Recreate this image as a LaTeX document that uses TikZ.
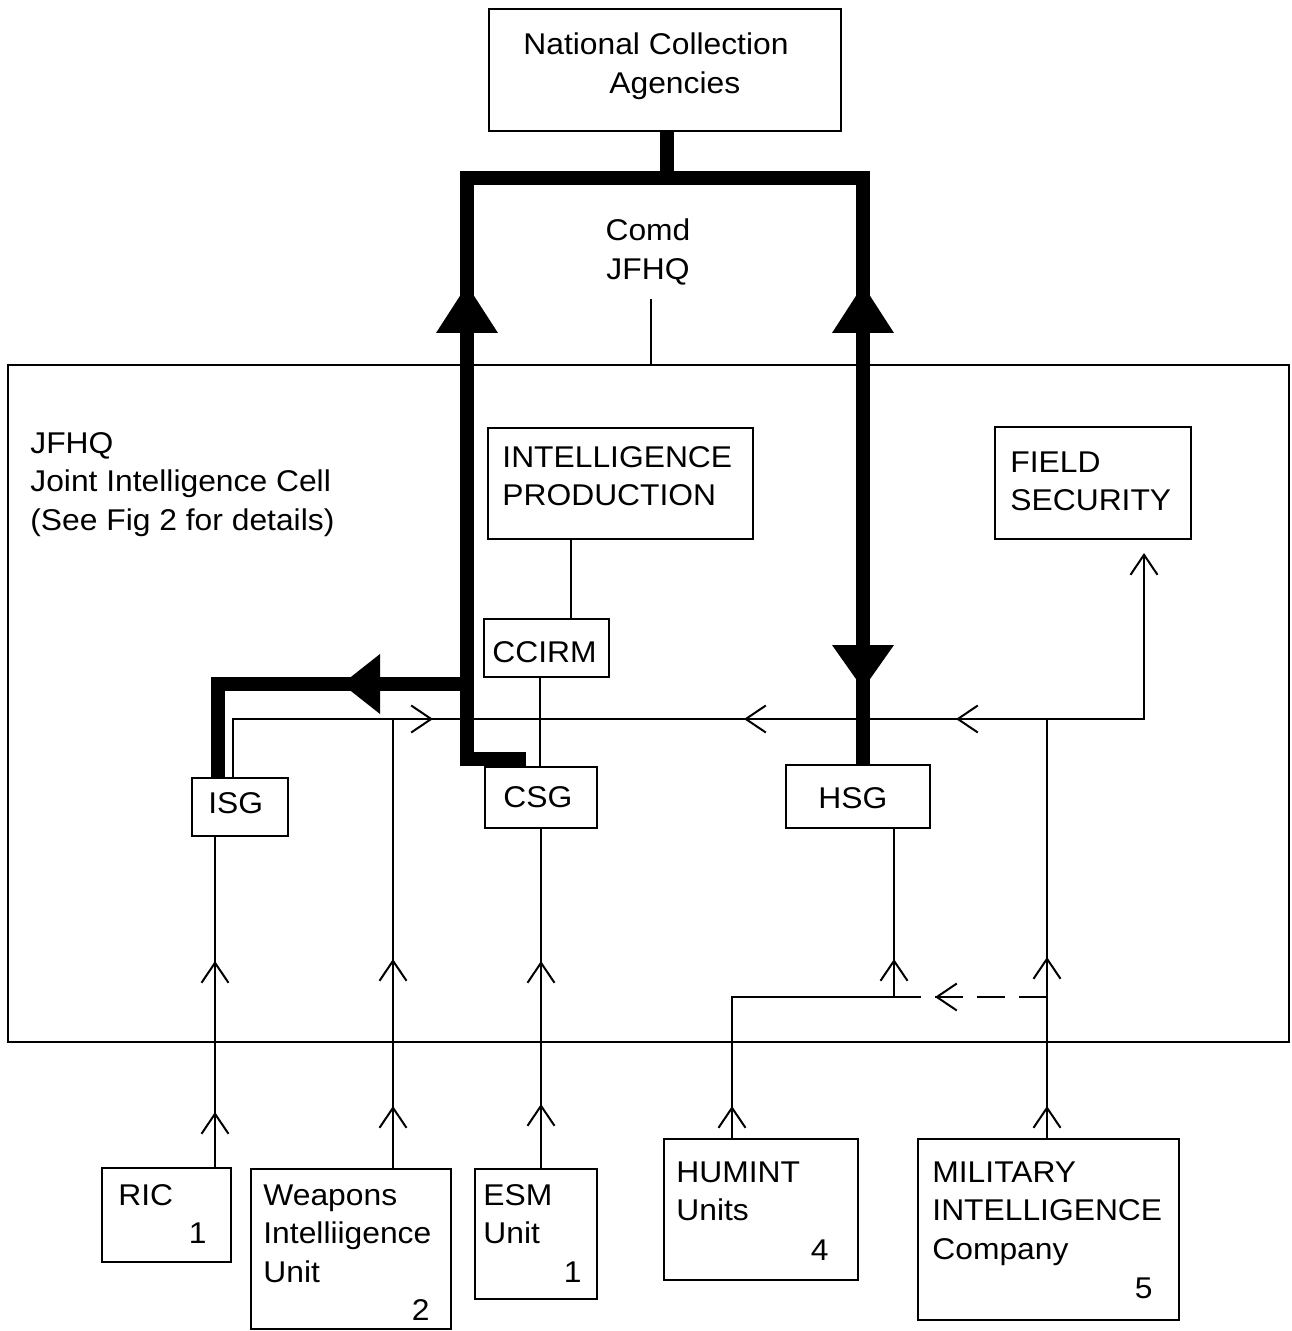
\documentclass[tikz,border=0pt]{standalone}
\usepackage{fontspec}
\setmainfont{Liberation Sans}[FakeStretch=1.06]
\usetikzlibrary{arrows.meta,decorations.markings,fit,calc}

% multi-line labels whose first baseline sits on the node's base anchor
\newcommand{\txtlines}[1]{\begin{tabular}[t]{@{}l@{}}#1\end{tabular}}
\newcommand{\txtcenter}[1]{\begin{tabular}[t]{@{}c@{}}#1\end{tabular}}

\tikzset{
  barb/.tip={Straight Barb[length=10pt,width=13.5pt]},
  box/.style={draw, line width=1pt, inner sep=0pt},
  txt/.style={inner sep=0pt, font=\fontsize{15}{19.25}\selectfont, anchor=base west},
  num/.style={txt, anchor=base east},
  feed/.style={line width=1pt},
  heavy/.style={line width=7pt, line cap=butt, line join=miter},
  head/.style={fill=black},
  onebarb/.style={postaction={decorate, decoration={markings,
      mark=at position #1 with {\arrow{barb}}}}},
  twobarbs/.style 2 args={postaction={decorate, decoration={markings,
      mark=at position #1 with {\arrow{barb}},
      mark=at position #2 with {\arrow{barb}}}}},
  netbarbs/.style={postaction={decorate, decoration={markings,
      mark=at position 129pt with {\arrow{barb}},
      mark=at position 284.5pt with {\arrowreversed{barb}},
      mark=at position 390.5pt with {\arrowreversed{barb}}}}},
}

\begin{document}
\begin{tikzpicture}[x=0.5pt,y=-0.5pt]
\useasboundingbox (0,0) rectangle (1291,1331);

% ---------- boxes ----------
\node[box, fit={(489,9)(841,131)}]      (nca)   {};
\node[box, fit={(8,365)(1289,1042)}]    (jic)   {};
\node[box, fit={(488,428)(753,539)}]    (ip)    {};
\node[box, fit={(995,427)(1191,539)}]   (fs)    {};
\node[box, fit={(484,619)(609,677)}]    (ccirm) {};
\node[box, fit={(485,767)(597,828)}]    (csg)   {};
\node[box, fit={(192,778)(288,836)}]    (isg)   {};
\node[box, fit={(786,765)(930,828)}]    (hsg)   {};
\node[box, fit={(102,1168)(231,1262)}]  (ric)   {};
\node[box, fit={(251,1169)(451,1329)}]  (wiu)   {};
\node[box, fit={(475,1169)(597,1299)}]  (esm)   {};
\node[box, fit={(664,1139)(858,1280)}]  (hum)   {};
\node[box, fit={(918,1139)(1179,1320)}] (mi)    {};

% ---------- texts ----------
\node[txt] (t-nca) at (523,55) {\txtlines{National Collection\\\hspace*{43pt}Agencies}};
\node[txt, anchor=base] (comd) at (648,241) {\txtcenter{Comd\\JFHQ}};
\node[txt] (t-jic) at (30,453) {\txtlines{JFHQ\\Joint Intelligence Cell\\(See Fig 2 for details)}};
\node[txt] (t-ip) at (502,467) {\txtlines{INTELLIGENCE\\PRODUCTION}};
\node[txt] (t-fs) at (1010,472) {\txtlines{FIELD\\SECURITY}};
\node[txt] (t-ccirm) at (492,662) {CCIRM};
\node[txt] (t-csg) at (503,807) {CSG};
\node[txt] (t-isg) at (208,813) {ISG};
\node[txt] (t-hsg) at (818,808) {HSG};
\node[txt] (t-ric) at (118,1205) {RIC};
\node[num] (n-ric) at (207,1243) {1};
\node[txt] (t-wiu) at (263,1205) {\txtlines{Weapons\\Intelliigence\\Unit}};
\node[num] (n-wiu) at (430,1320) {2};
\node[txt] (t-esm) at (483,1205) {\txtlines{ESM\\Unit}};
\node[num] (n-esm) at (582,1282) {1};
\node[txt] (t-hum) at (676,1182) {\txtlines{HUMINT\\Units}};
\node[num] (n-hum) at (829,1260) {4};
\node[txt] (t-mi) at (932,1182) {\txtlines{MILITARY\\INTELLIGENCE\\Company}};
\node[num] (n-mi) at (1153,1298) {5};

% ---------- lanes and buses ----------
\coordinate (laneIP)   at (571,0);
\coordinate (laneCC)   at (540,0);
\coordinate (laneComd) at (651,0);
\coordinate (laneISG)  at (215,0);
\coordinate (laneNet)  at (233,0);
\coordinate (laneWIU)  at (393,0);
\coordinate (laneCSG)  at (541,0);
\coordinate (laneHUM)  at (732,0);
\coordinate (laneHSG)  at (894,0);
\coordinate (laneMI)   at (1047,0);
\coordinate (laneFS)   at (1144,0);
\coordinate (net)      at (0,719);
\coordinate (humnet)   at (0,997);
\coordinate (colL)     at (467,0);
\coordinate (colR)     at (863,0);
\coordinate (colNCA)   at (667,0);
\coordinate (colISG)   at (218,0);
\coordinate (bar)      at (0,178);
\coordinate (isgbus)   at (0,684);

% ---------- thin links ----------
\draw[feed] (ip.south -| laneIP) -- (ccirm.north -| laneIP);
\draw[feed] (ccirm.south -| laneCC) -- (csg.north -| laneCC);
\draw[feed] ($(comd.south -| laneComd)+(0,8)$) -- (jic.north -| laneComd);

% collection net feeding field security
\draw[feed, -{barb}, netbarbs] (isg.north -| laneNet) -- (laneNet |- net)
      -- (laneFS |- net) -- ($(fs.south -| laneFS)+(0,13)$);

% reporting lines from the units
\draw[feed, twobarbs={27.5pt}{103pt}] (ric.north -| laneISG) -- (isg.south -| laneISG);
\draw[feed, twobarbs={31pt}{104.5pt}] (wiu.north -| laneWIU) -- (laneWIU |- net);
\draw[feed, twobarbs={32pt}{103.5pt}] (esm.north -| laneCSG) -- (csg.south -| laneCSG);
\draw[feed, twobarbs={16pt}{170.5pt}] (hum.north -| laneHUM) -- (laneHUM |- humnet)
      -- (laneHSG |- humnet) -- (hsg.south -| laneHSG);
\draw[feed, twobarbs={16pt}{90.5pt}] (mi.north -| laneMI) -- (laneMI |- net);
\draw[feed, dash pattern=on 14pt off 7pt, onebarb=56pt] (laneMI |- humnet) -- (laneHSG |- humnet);

% ---------- heavy command links ----------
\draw[heavy] (nca.south -| colNCA) -- (colNCA |- bar);
\draw[heavy] ($(csg.north west)+(42,-7)$) -- ($(colL |- csg.north)+(0,-7)$)
      -- (colL |- bar) -- (colR |- bar) -- (hsg.north -| colR);
\draw[heavy] (colL |- isgbus) -- (colISG |- isgbus) -- (isg.north -| colISG);

% heavy arrowheads
\fill[head] (467,285) -- (498,333) -- (436,333) -- cycle;
\fill[head] (863,285) -- (894,333) -- (832,333) -- cycle;
\fill[head] (863,689) -- (894,645) -- (832,645) -- cycle;
\fill[head] (342,684) -- (380,654) -- (380,714) -- cycle;
\end{tikzpicture}
\end{document}
